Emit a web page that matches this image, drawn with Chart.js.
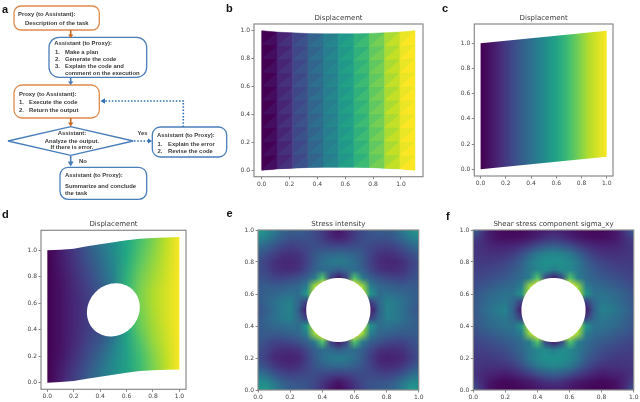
<!DOCTYPE html>
<html>
<head>
<meta charset="utf-8">
<title>Displacement and stress panels</title>
<script src="https://cdn.jsdelivr.net/npm/chart.js@4"></script>
<style>
  html, body { margin: 0; padding: 0; background: #fff; }
  #page { position: relative; width: 640px; height: 402px; overflow: hidden; filter: blur(0.35px); }
  #page canvas { position: absolute; }
  #flow { position: absolute; left: 0; top: 0; }
  #flow text { font-family: "Liberation Sans", sans-serif; font-size: 5.9px; font-weight: bold; fill: #3a3a3a; dominant-baseline: central; }
  #flow text.panel { font-size: 11px; fill: #111; }
</style>
</head>
<body>
<div id="page">
  <canvas id="panelB" width="208" height="190" style="left:232px;top:5px"></canvas>
  <canvas id="panelC" width="192" height="190" style="left:448px;top:5px"></canvas>
  <canvas id="panelD" width="196" height="190" style="left:10px;top:212px"></canvas>
  <canvas id="panelE" width="205" height="190" style="left:235px;top:212px"></canvas>
  <canvas id="panelF" width="190" height="190" style="left:450px;top:212px"></canvas>

  <!-- Panel a: the flow chart, plus the panel letters -->
  <svg id="flow" width="640" height="402" viewBox="0 0 640 402">
    <g fill="none" stroke-width="1.3">
      <rect x="14" y="6" width="85.3" height="24" rx="7" stroke="#e08b4c"/>
      <rect x="49" y="37.3" width="97.7" height="40" rx="10" stroke="#4a7ebb"/>
      <rect x="14" y="85" width="85.3" height="33" rx="8" stroke="#e08b4c"/>
      <polygon points="8,141 70.7,126.7 133.3,141 70.7,155.3" stroke="#4a7ebb"/>
      <rect x="152.3" y="127" width="74.4" height="30" rx="8" stroke="#4a7ebb"/>
      <rect x="60" y="167.3" width="86.7" height="32" rx="8" stroke="#4a7ebb"/>
    </g>
    <g stroke-width="1.6" fill="none">
      <line x1="70.7" y1="30" x2="70.7" y2="35" stroke="#c9691f"/>
      <line x1="70.7" y1="77.3" x2="70.7" y2="82" stroke="#4a7ebb"/>
      <line x1="70.7" y1="118" x2="70.7" y2="123" stroke="#c9691f"/>
      <line x1="70.7" y1="155.3" x2="70.7" y2="162" stroke="#4a7ebb"/>
      <path d="M134 141H148" stroke="#2f6fb5" stroke-dasharray="1.5 1.7"/>
      <path d="M183.3 127V101H104" stroke="#2f6fb5" stroke-dasharray="1.5 1.7"/>
    </g>
    <polygon points="68,34.5 73.4,34.5 70.7,38" fill="#c9691f"/>
    <polygon points="68,81.5 73.4,81.5 70.7,85" fill="#4a7ebb"/>
    <polygon points="68,122.5 73.4,122.5 70.7,126.5" fill="#c9691f"/>
    <polygon points="67.7,161.5 73.7,161.5 70.7,166.5" fill="#4a7ebb"/>
    <polygon points="148,138.5 148,143.5 152,141" fill="#2f6fb5"/>
    <polygon points="105,98.3 105,103.7 100.5,101" fill="#2f6fb5"/>

    <text x="18" y="13.7">Proxy (to Assistant):</text>
    <text x="25" y="22.7">Description of the task</text>

    <text x="54.3" y="43.3">Assistant (to Proxy):</text>
    <text x="55" y="51.7">1.</text><text x="65" y="51.7">Make a plan</text>
    <text x="55" y="58.7">2.</text><text x="65" y="58.7">Generate the code</text>
    <text x="55" y="65.7">3.</text><text x="65" y="65.7">Explain the code and</text>
    <text x="65" y="73">comment on the execution</text>

    <text x="19" y="94">Proxy (to Assistant):</text>
    <text x="19" y="102.3">1.</text><text x="29" y="102.3">Execute the code</text>
    <text x="19" y="109.7">2.</text><text x="29" y="109.7">Return the output</text>

    <text x="72" y="133.3" text-anchor="middle">Assistant:</text>
    <text x="72" y="140.7" text-anchor="middle">Analyze the output.</text>
    <text x="72" y="147.3" text-anchor="middle">If there is error.</text>

    <text x="142.5" y="133.3" text-anchor="middle">Yes</text>
    <text x="157" y="134.7">Assistant (to Proxy):</text>
    <text x="157.6" y="143.7">1.</text><text x="168" y="143.7">Explain the error</text>
    <text x="157.6" y="150.7">2.</text><text x="168" y="150.7">Revise the code</text>

    <text x="79" y="160.7">No</text>
    <text x="65" y="175">Assistant (to Proxy):</text>
    <text x="65" y="185.7">Summarize and conclude</text>
    <text x="65" y="192.7">the task</text>

    <text class="panel" x="2" y="9">a</text>
    <text class="panel" x="226" y="7.5">b</text>
    <text class="panel" x="442" y="8">c</text>
    <text class="panel" x="2" y="214">d</text>
    <text class="panel" x="226.5" y="213">e</text>
    <text class="panel" x="446" y="216">f</text>
  </svg>
</div>

<script>
// Tick values shared by all the axes
const tickValues = [0, 0.2, 0.4, 0.6, 0.8, 1.0];

// Panel b: mesh edges and the colour of each band (two triangles per cell)
const meshX = [0, 0.11, 0.22, 0.33, 0.44, 0.55, 0.66, 0.77, 0.88, 0.99, 1.1];
const meshTop = [1.0, 0.99, 0.985, 0.98, 0.978, 0.978, 0.978, 0.98, 0.985, 0.99, 1.0];
const meshBottom = [0, 0.01, 0.015, 0.02, 0.022, 0.022, 0.022, 0.02, 0.015, 0.01, 0];
const meshUpper = [0.0, 0.1, 0.21, 0.32, 0.42, 0.53, 0.64, 0.75, 0.87, 0.97];
const meshLower = [0.035, 0.14, 0.25, 0.36, 0.46, 0.57, 0.68, 0.79, 0.91, 1.0];
const meshRows = 10;

// Panel c: colour along x, with straight top and bottom edges
const shearX = [0, 0.05, 0.1, 0.15, 0.2, 0.25, 0.3, 0.35, 0.4, 0.45, 0.5, 0.55, 0.6, 0.65, 0.7, 0.75, 0.8, 0.85, 0.9, 0.95, 1.0];
const shearValues = [0, 0.03, 0.07, 0.12, 0.17, 0.22, 0.27, 0.32, 0.37, 0.42, 0.47, 0.53, 0.58, 0.64, 0.7, 0.76, 0.82, 0.88, 0.92, 0.96, 1.0];
const shearEdgeX = [0, 1];
const shearTop = [1.0, 1.1];
const shearBottom = [0, 0.1];

// Panel d: colour on a grid, rows listed from the top down
const plateX = [0, 0.1, 0.2, 0.3, 0.4, 0.5, 0.6, 0.7, 0.8, 0.9, 1.0];
const plateY = [1.1, 1.0, 0.9, 0.8, 0.7, 0.6, 0.5, 0.4, 0.3, 0.2, 0.1, 0];
const plateTop = [1.0, 1.005, 1.012, 1.03, 1.045, 1.06, 1.075, 1.088, 1.093, 1.097, 1.1];
const plateBottom = [0, 0.005, 0.012, 0.03, 0.045, 0.06, 0.075, 0.088, 0.093, 0.097, 0.1];
const plateValues = [
  [0, 0.10, 0.20, 0.30, 0.40, 0.50, 0.60, 0.70, 0.80, 0.90, 1],
  [0, 0.08, 0.17, 0.27, 0.37, 0.48, 0.60, 0.72, 0.82, 0.91, 1],
  [0, 0.07, 0.15, 0.24, 0.34, 0.46, 0.62, 0.75, 0.84, 0.92, 1],
  [0, 0.06, 0.13, 0.21, 0.31, 0.44, 0.64, 0.78, 0.86, 0.93, 1],
  [0, 0.05, 0.12, 0.19, 0.27, 0.40, 0.66, 0.80, 0.88, 0.94, 1],
  [0, 0.05, 0.11, 0.17, 0.24, 0.38, 0.66, 0.80, 0.88, 0.94, 1],
  [0, 0.05, 0.11, 0.17, 0.22, 0.34, 0.62, 0.78, 0.87, 0.94, 1],
  [0, 0.05, 0.11, 0.18, 0.23, 0.35, 0.60, 0.76, 0.86, 0.93, 1],
  [0, 0.05, 0.12, 0.20, 0.28, 0.42, 0.58, 0.72, 0.84, 0.92, 1],
  [0, 0.06, 0.14, 0.23, 0.33, 0.46, 0.57, 0.69, 0.81, 0.91, 1],
  [0, 0.08, 0.17, 0.27, 0.38, 0.48, 0.57, 0.68, 0.80, 0.90, 1],
  [0, 0.09, 0.19, 0.29, 0.39, 0.49, 0.59, 0.69, 0.79, 0.89, 1]
];

// Panels e and f: percent of the colour range, rows listed from y=1 down to y=0
const fieldX = [0, 0.05, 0.1, 0.15, 0.2, 0.25, 0.3, 0.35, 0.4, 0.45, 0.5, 0.55, 0.6, 0.65, 0.7, 0.75, 0.8, 0.85, 0.9, 0.95, 1.0];
const fieldY = [1.0, 0.95, 0.9, 0.85, 0.8, 0.75, 0.7, 0.65, 0.6, 0.55, 0.5, 0.45, 0.4, 0.35, 0.3, 0.25, 0.2, 0.15, 0.1, 0.05, 0];
const stressValues = [
  [55, 48, 40, 33, 29, 29, 27, 23, 17, 10, 5, 10, 17, 23, 27, 29, 29, 33, 40, 48, 55],
  [46, 42, 35, 28, 25, 25, 25, 23, 18, 12, 9, 12, 18, 23, 25, 25, 25, 28, 35, 42, 46],
  [36, 32, 26, 21, 19, 20, 22, 24, 23, 21, 21, 21, 23, 24, 22, 20, 19, 21, 26, 32, 36],
  [28, 24, 19, 15, 14, 15, 20, 27, 31, 33, 34, 33, 31, 27, 20, 15, 14, 15, 19, 24, 28],
  [24, 19, 14, 11, 11, 13, 19, 28, 36, 40, 42, 40, 36, 28, 19, 13, 11, 11, 14, 19, 24],
  [24, 20, 15, 13, 13, 15, 22, 30, 35, 34, 30, 34, 35, 30, 22, 15, 13, 13, 15, 20, 24],
  [26, 24, 20, 20, 22, 25, 30, 40, 72, 20, 8, 20, 72, 40, 30, 25, 22, 20, 20, 24, 26],
  [28, 29, 28, 29, 31, 33, 42, 84, 100, 100, 100, 100, 100, 84, 42, 33, 31, 29, 28, 29, 28],
  [29, 31, 33, 35, 37, 36, 52, 90, 90, 90, 90, 90, 90, 90, 52, 36, 37, 35, 33, 31, 29],
  [28, 32, 37, 41, 43, 33, 18, 18, 18, 18, 18, 18, 18, 18, 18, 33, 43, 41, 37, 32, 28],
  [26, 30, 36, 41, 44, 30, 6, 6, 6, 6, 6, 6, 6, 6, 6, 30, 44, 41, 36, 30, 26],
  [28, 32, 37, 41, 43, 33, 18, 18, 18, 18, 18, 18, 18, 18, 18, 33, 43, 41, 37, 32, 28],
  [29, 31, 33, 35, 37, 36, 52, 90, 90, 90, 90, 90, 90, 90, 52, 36, 37, 35, 33, 31, 29],
  [28, 29, 28, 29, 31, 33, 42, 84, 100, 100, 100, 100, 100, 84, 42, 33, 31, 29, 28, 29, 28],
  [26, 24, 20, 20, 22, 25, 30, 40, 72, 20, 8, 20, 72, 40, 30, 25, 22, 20, 20, 24, 26],
  [24, 20, 15, 13, 13, 15, 22, 30, 35, 34, 30, 34, 35, 30, 22, 15, 13, 13, 15, 20, 24],
  [23, 18, 12, 10, 9, 11, 18, 28, 36, 40, 42, 40, 36, 28, 18, 11, 9, 10, 12, 18, 23],
  [28, 23, 17, 13, 12, 14, 20, 26, 30, 33, 34, 33, 30, 26, 20, 14, 12, 13, 17, 23, 28],
  [38, 34, 26, 21, 19, 20, 22, 23, 22, 20, 19, 20, 22, 23, 22, 20, 19, 21, 26, 34, 38],
  [48, 46, 38, 30, 27, 26, 25, 22, 16, 10, 6, 10, 16, 22, 25, 26, 27, 30, 38, 46, 48],
  [52, 54, 44, 35, 30, 28, 26, 20, 14, 6, 2, 6, 14, 20, 26, 28, 30, 35, 44, 54, 52]
];
const shearStressValues = [
  [32, 18, 8, 4, 2, 2, 2, 4, 6, 8, 10, 8, 6, 4, 2, 2, 2, 4, 8, 18, 32],
  [20, 14, 8, 5, 4, 4, 5, 7, 10, 14, 16, 14, 10, 7, 5, 4, 4, 5, 8, 14, 20],
  [16, 14, 11, 10, 10, 11, 14, 18, 24, 28, 30, 28, 24, 18, 14, 11, 10, 10, 11, 14, 16],
  [16, 15, 14, 14, 15, 18, 24, 32, 40, 44, 46, 44, 40, 32, 24, 18, 15, 14, 14, 15, 16],
  [17, 17, 17, 18, 20, 24, 30, 40, 46, 50, 50, 50, 46, 40, 30, 24, 20, 18, 17, 17, 17],
  [18, 19, 20, 22, 24, 28, 33, 40, 46, 48, 42, 48, 46, 40, 33, 28, 24, 22, 20, 19, 18],
  [20, 22, 24, 26, 28, 31, 35, 42, 72, 22, 8, 22, 72, 42, 35, 31, 28, 26, 24, 22, 20],
  [23, 26, 28, 31, 33, 35, 42, 84, 100, 100, 100, 100, 100, 84, 42, 35, 33, 31, 28, 26, 23],
  [26, 30, 33, 36, 38, 38, 52, 90, 90, 90, 90, 90, 90, 90, 52, 38, 38, 36, 33, 30, 26],
  [27, 31, 35, 38, 40, 33, 18, 18, 18, 18, 18, 18, 18, 18, 18, 33, 40, 38, 35, 31, 27],
  [28, 33, 38, 42, 44, 30, 6, 6, 6, 6, 6, 6, 6, 6, 6, 30, 44, 42, 38, 33, 28],
  [27, 31, 35, 38, 40, 33, 18, 18, 18, 18, 18, 18, 18, 18, 18, 33, 40, 38, 35, 31, 27],
  [26, 30, 33, 36, 38, 38, 52, 90, 90, 90, 90, 90, 90, 90, 52, 38, 38, 36, 33, 30, 26],
  [23, 26, 28, 31, 33, 35, 42, 84, 100, 100, 100, 100, 100, 84, 42, 35, 33, 31, 28, 26, 23],
  [20, 22, 24, 26, 28, 31, 35, 42, 72, 22, 8, 22, 72, 42, 35, 31, 28, 26, 24, 22, 20],
  [18, 19, 20, 22, 24, 28, 33, 40, 46, 48, 42, 48, 46, 40, 33, 28, 24, 22, 20, 19, 18],
  [17, 17, 17, 18, 20, 24, 30, 40, 46, 50, 50, 50, 46, 40, 30, 24, 20, 18, 17, 17, 17],
  [16, 15, 14, 14, 15, 18, 24, 32, 40, 44, 46, 44, 40, 32, 24, 18, 15, 14, 14, 15, 16],
  [15, 12, 10, 9, 8, 10, 14, 18, 24, 28, 30, 28, 24, 18, 14, 10, 8, 9, 10, 12, 15],
  [20, 12, 6, 3, 2, 3, 5, 7, 10, 14, 16, 14, 10, 7, 5, 3, 2, 3, 6, 12, 20],
  [28, 14, 5, 2, 1, 1, 2, 4, 6, 8, 8, 8, 6, 4, 2, 1, 1, 2, 5, 14, 28]
];

// Viridis colour map, sampled every 0.1
const viridis = [[68, 1, 84], [72, 36, 117], [65, 68, 135], [53, 95, 141], [42, 120, 142], [33, 145, 140], [34, 168, 132], [68, 191, 112], [122, 209, 81], [189, 223, 38], [253, 231, 37]];

function viridisColor(v) {
  const t = Math.min(Math.max(v, 0), 1) * 10;
  const i = Math.min(Math.floor(t), 9);
  return viridis[i].map((c, k) => Math.round(c + (viridis[i + 1][k] - c) * (t - i)));
}

function rgb(c) {
  return `rgb(${c[0]},${c[1]},${c[2]})`;
}

// Paint a grid of values as one smooth image, placed through the chart scales
function drawField(chart, field) {
  const { x: xs, y: ys } = chart.scales;
  const points = chart.data.datasets[0].data;
  const nx = field.xs.length;
  const ny = field.ys.length;
  const off = document.createElement('canvas');
  off.width = nx;
  off.height = ny;
  const octx = off.getContext('2d');
  points.forEach((p, k) => {
    octx.fillStyle = rgb(viridisColor(p.v));
    octx.fillRect(k % nx, Math.floor(k / nx), 1, 1);
  });

  const dx = field.xs[1] - field.xs[0];
  const dy = ny > 1 ? field.ys[1] - field.ys[0] : -1.3;
  const left = xs.getPixelForValue(field.xs[0] - dx / 2);
  const right = xs.getPixelForValue(field.xs[nx - 1] + dx / 2);
  const top = ys.getPixelForValue(field.ys[0] - dy / 2);
  const bottom = ys.getPixelForValue(field.ys[ny - 1] + dy / 2);

  const ctx = chart.ctx;
  ctx.save();
  ctx.beginPath();
  if (field.edgeX) {
    field.edgeX.forEach((x, i) => ctx.lineTo(xs.getPixelForValue(x), ys.getPixelForValue(field.top[i])));
    for (let i = field.edgeX.length - 1; i >= 0; i--) {
      ctx.lineTo(xs.getPixelForValue(field.edgeX[i]), ys.getPixelForValue(field.bottom[i]));
    }
    ctx.closePath();
  } else {
    ctx.rect(chart.chartArea.left, chart.chartArea.top, chart.chartArea.width, chart.chartArea.height);
  }
  ctx.clip();
  ctx.imageSmoothingEnabled = true;
  ctx.drawImage(off, left, top, right - left, bottom - top);
  ctx.restore();
}

// The hole in panels d, e, f: a circle, sheared when the plate is sheared
function drawHole(chart, hole) {
  const { x: xs, y: ys } = chart.scales;
  const ctx = chart.ctx;
  ctx.save();
  ctx.fillStyle = '#fff';
  ctx.beginPath();
  for (let a = 0; a < 96; a++) {
    const t = a / 96 * Math.PI * 2;
    const dx = hole.r * Math.cos(t);
    const dy = hole.r * Math.sin(t) + hole.shear * dx;
    ctx.lineTo(xs.getPixelForValue(hole.cx + dx), ys.getPixelForValue(hole.cy + dy));
  }
  ctx.closePath();
  ctx.fill();
  ctx.restore();
}

// Triangle mesh of panel b: a solid band for each column, then the lower
// triangle of each cell on top of it
function drawMesh(chart) {
  const { x: xs, y: ys } = chart.scales;
  const ctx = chart.ctx;
  const nodeY = (i, r) => meshBottom[i] + (meshTop[i] - meshBottom[i]) * r / meshRows;
  const poly = (pts, v, edge) => {
    ctx.fillStyle = ctx.strokeStyle = rgb(viridisColor(v));
    ctx.lineWidth = 0.5;
    ctx.beginPath();
    pts.forEach(p => ctx.lineTo(xs.getPixelForValue(p[0]), ys.getPixelForValue(p[1])));
    ctx.closePath();
    ctx.fill();
    if (edge) ctx.stroke();
  };
  meshUpper.forEach((v, i) => {
    poly([[meshX[i], meshBottom[i]], [meshX[i + 1], meshBottom[i + 1]], [meshX[i + 1], meshTop[i + 1]], [meshX[i], meshTop[i]]], v, true);
  });
  chart.data.datasets[0].data.forEach(p => {
    const i = p.col;
    const r = p.row;
    poly([[meshX[i], nodeY(i, r)], [meshX[i + 1], nodeY(i + 1, r)], [meshX[i + 1], nodeY(i + 1, r + 1)]], meshLower[i], false);
  });
}

// Build the dataset of a grid panel from its value rows
function fieldPoints(xList, yList, rows, scale) {
  const points = [];
  yList.forEach((y, j) => xList.forEach((x, i) => points.push({ x: x, y: y, v: rows[j][i] * scale })));
  return points;
}

function meshPoints() {
  const points = [];
  meshUpper.forEach((v, col) => {
    for (let row = 0; row < meshRows; row++) {
      points.push({ x: meshX[col], y: meshBottom[col] + (meshTop[col] - meshBottom[col]) * row / meshRows, col: col, row: row });
    }
  });
  return points;
}

// One chart per panel, with the frame placed at an exact page rectangle
function makePanel(id, frame, xRange, yRange, title, points, paint) {
  const canvas = document.getElementById(id);
  const originX = parseFloat(canvas.style.left);
  const originY = parseFloat(canvas.style.top);
  const axisY = 18;
  const axisX = 12;
  const titleSize = 7;
  const titleBox = titleSize * 1.2 + 2;
  const tickFont = { family: '"DejaVu Sans"', size: 6 };

  const axis = (range, fit) => ({
    type: 'linear',
    min: range[0],
    max: range[1],
    afterBuildTicks: s => { s.ticks = tickValues.map(v => ({ value: v })); },
    afterFit: fit,
    border: { display: false },
    grid: { drawOnChartArea: false, drawTicks: true, tickLength: 2.5, tickColor: '#666', tickWidth: 0.8 },
    ticks: { font: tickFont, color: '#444', padding: 1.5, autoSkip: false, maxRotation: 0, callback: v => v.toFixed(1) }
  });

  return new Chart(canvas, {
    type: 'scatter',
    data: { datasets: [{ data: points, pointRadius: 0, showLine: false }] },
    options: {
      responsive: false,
      animation: false,
      devicePixelRatio: 1,
      events: [],
      layout: {
        padding: {
          left: frame.left - originX - axisY,
          right: canvas.width - (frame.right - originX),
          top: frame.top - originY - titleBox,
          bottom: canvas.height - (frame.bottom - originY) - axisX
        }
      },
      scales: {
        x: axis(xRange, s => { s.height = axisX; }),
        y: axis(yRange, s => { s.width = axisY; })
      },
      plugins: {
        legend: { display: false },
        tooltip: { enabled: false },
        title: {
          display: true,
          text: title,
          fullSize: false,
          color: '#3a3a3a',
          font: { family: '"DejaVu Sans"', size: titleSize, weight: 'normal' },
          padding: { top: 0, bottom: 2 }
        }
      }
    },
    plugins: [{
      id: 'panelPaint',
      beforeDatasetsDraw: chart => paint(chart),
      afterDatasetsDraw: chart => {
        const a = chart.chartArea;
        chart.ctx.save();
        chart.ctx.strokeStyle = '#8a8a8a';
        chart.ctx.lineWidth = 1.2;
        chart.ctx.strokeRect(a.left, a.top, a.width, a.height);
        chart.ctx.restore();
      }
    }]
  });
}

// Panel b
makePanel('panelB', { left: 254, right: 423, top: 24, bottom: 176.7 }, [-0.055, 1.158], [-0.046, 1.048],
  'Displacement', meshPoints(), drawMesh);

// Panel c
const shearField = { xs: shearX, ys: [0.55], edgeX: shearEdgeX, top: shearTop, bottom: shearBottom };
makePanel('panelC', { left: 474.3, right: 613, top: 24, bottom: 176 }, [-0.05, 1.05], [-0.053, 1.153],
  'Displacement', fieldPoints(shearX, [0.55], [shearValues], 1), chart => drawField(chart, shearField));

// Panel d
const plateField = { xs: plateX, ys: plateY, edgeX: plateX, top: plateTop, bottom: plateBottom };
makePanel('panelD', { left: 41, right: 186, top: 230.3, bottom: 389.3 }, [-0.048, 1.05], [-0.05, 1.151],
  'Displacement', fieldPoints(plateX, plateY, plateValues, 1), chart => {
    drawField(chart, plateField);
    drawHole(chart, { cx: 0.5, cy: 0.55, r: 0.2, shear: 0.1 });
  });

// Panel e
makePanel('panelE', { left: 258, right: 418.7, top: 230, bottom: 390 }, [0, 1], [0, 1],
  'Stress intensity', fieldPoints(fieldX, fieldY, stressValues, 0.01), chart => {
    drawField(chart, { xs: fieldX, ys: fieldY });
    drawHole(chart, { cx: 0.5, cy: 0.5, r: 0.2, shear: 0 });
  });

// Panel f
makePanel('panelF', { left: 473.3, right: 634, top: 230, bottom: 390 }, [0, 1], [0, 1],
  'Shear stress component sigma_xy', fieldPoints(fieldX, fieldY, shearStressValues, 0.01), chart => {
    drawField(chart, { xs: fieldX, ys: fieldY });
    drawHole(chart, { cx: 0.5, cy: 0.5, r: 0.2, shear: 0 });
  });
</script>
</body>
</html>
